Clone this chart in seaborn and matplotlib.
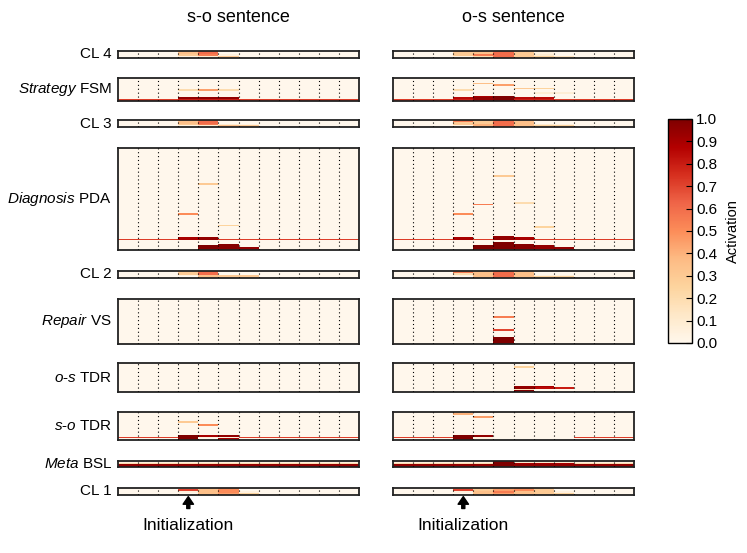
import numpy as np
import matplotlib
matplotlib.use("Agg")
import matplotlib.pyplot as plt
import seaborn as sns
from matplotlib.ticker import FormatStrFormatter

plt.rcParams['font.family'] = ['Liberation Sans', 'DejaVu Sans']
plt.rcParams['mathtext.fontset'] = 'custom'
plt.rcParams['mathtext.rm'] = 'Liberation Sans'
plt.rcParams['mathtext.it'] = 'Liberation Sans:italic'

# ---- data -------------------------------------------------------------
steps = 12
init_step = 3
sentences = ["s-o sentence", "o-s sentence"]
modules = ["CL 4", r"$\mathit{Strategy}$ FSM", "CL 3", r"$\mathit{Diagnosis}$ PDA",
           "CL 2", r"$\mathit{Repair}$ VS", r"$\mathit{o}$-$\mathit{s}$ TDR",
           r"$\mathit{s}$-$\mathit{o}$ TDR", r"$\mathit{Meta}$ BSL", "CL 1"]
units = [4, 14, 4, 64, 4, 28, 18, 18, 4, 4]

# activations: {unit row: [value per time step]}, rows not listed are 0
so_cl4 = {
    0: [0, 0, 0, .35, .6, 0, 0, 0, 0, 0, 0, 0],
    1: [0, 0, 0, .35, .6, 0, 0, 0, 0, 0, 0, 0],
    2: [0, 0, 0, .3, .55, .05, 0, 0, 0, 0, 0, 0],
    3: [0, 0, 0, .05, .1, .3, 0, 0, 0, 0, 0, 0],
}
os_cl4 = {
    0: [0, 0, 0, .5, .35, .6, .3, .05, 0, 0, 0, 0],
    1: [0, 0, 0, .3, .35, .6, .3, .05, 0, 0, 0, 0],
    2: [0, 0, 0, .3, .55, .6, .3, .1, 0, 0, 0, 0],
    3: [0, 0, 0, .05, .2, .6, .3, .25, .15, 0, 0, 0],
}
so_fsm = {
    7: [0, 0, 0, .2, .45, .2, 0, 0, 0, 0, 0, 0],
    12: [0, 0, 0, .95, .95, .95, 0, 0, 0, 0, 0, 0],
    13: [.72, .72, .72, .8, .8, .8, .72, .72, .72, .72, .72, .72],
}
os_fsm = {
    3: [0, 0, 0, 0, .35, 0, 0, 0, 0, 0, 0, 0],
    4: [0, 0, 0, 0, 0, .45, 0, 0, 0, 0, 0, 0],
    6: [0, 0, 0, 0, 0, 0, .3, .25, 0, 0, 0, 0],
    7: [0, 0, 0, .2, 0, 0, 0, 0, 0, 0, 0, 0],
    9: [0, 0, 0, 0, 0, 0, 0, .08, .08, 0, 0, 0],
    11: [0, 0, 0, 0, .9, 1, 0, 0, 0, 0, 0, 0],
    12: [0, 0, 0, .85, .95, 1, .85, .85, 0, 0, 0, 0],
    13: [.72, .72, .72, .8, .95, 1, .8, .8, .72, .72, .72, .72],
}
so_cl3 = {
    0: [0, 0, 0, .35, .6, 0, 0, 0, 0, 0, 0, 0],
    1: [0, 0, 0, .35, .6, 0, 0, 0, 0, 0, 0, 0],
    2: [0, 0, 0, .3, .55, .1, .05, 0, 0, 0, 0, 0],
    3: [0, 0, 0, .05, .1, .35, .3, 0, 0, 0, 0, 0],
}
os_cl3 = {
    0: [0, 0, 0, .55, .3, .6, .35, 0, 0, 0, 0, 0],
    1: [0, 0, 0, .3, .3, .6, .35, 0, 0, 0, 0, 0],
    2: [0, 0, 0, .3, .4, .6, .35, .1, .05, 0, 0, 0],
    3: [0, 0, 0, .05, .4, .6, .35, .25, .25, 0, 0, 0],
}
so_pda = {
    22: [0, 0, 0, 0, .3, 0, 0, 0, 0, 0, 0, 0],
    41: [0, 0, 0, .5, 0, 0, 0, 0, 0, 0, 0, 0],
    48: [0, 0, 0, 0, 0, .25, 0, 0, 0, 0, 0, 0],
    56: [0, 0, 0, .9, .95, 0, 0, 0, 0, 0, 0, 0],
    57: [.72, .72, .72, .9, .95, .72, .72, .72, .72, .72, .72, .72],
    60: [0, 0, 0, 0, 0, .98, 0, 0, 0, 0, 0, 0],
    61: [0, 0, 0, 0, 1, .98, 0, 0, 0, 0, 0, 0],
    62: [0, 0, 0, 0, 1, .98, .95, 0, 0, 0, 0, 0],
    63: [0, 0, 0, 0, 1, .98, .95, 0, 0, 0, 0, 0],
}
os_pda = {
    17: [0, 0, 0, 0, 0, .3, 0, 0, 0, 0, 0, 0],
    34: [0, 0, 0, 0, 0, 0, .2, 0, 0, 0, 0, 0],
    35: [0, 0, 0, 0, .55, 0, 0, 0, 0, 0, 0, 0],
    41: [0, 0, 0, .5, 0, 0, 0, 0, 0, 0, 0, 0],
    49: [0, 0, 0, 0, 0, 0, 0, .25, 0, 0, 0, 0],
    55: [0, 0, 0, 0, 0, .95, 0, 0, 0, 0, 0, 0],
    56: [0, 0, 0, .9, 0, .95, .9, 0, 0, 0, 0, 0],
    57: [.72, .72, .72, .9, .72, .95, .9, .72, .72, .72, .72, .72],
    59: [0, 0, 0, 0, 0, 1, 0, 0, 0, 0, 0, 0],
    60: [0, 0, 0, 0, 0, 1, .98, 0, 0, 0, 0, 0],
    61: [0, 0, 0, 0, 1, 1, .98, .95, 0, 0, 0, 0],
    62: [0, 0, 0, 0, 1, 1, .98, .95, .95, 0, 0, 0],
    63: [0, 0, 0, 0, 1, 1, .98, .95, .95, 0, 0, 0],
}
so_cl2 = {
    0: [0, 0, 0, .3, .6, 0, 0, 0, 0, 0, 0, 0],
    1: [0, 0, 0, .3, .6, 0, 0, 0, 0, 0, 0, 0],
    2: [0, 0, 0, .05, .35, .3, .3, 0, 0, 0, 0, 0],
    3: [0, 0, 0, 0, .35, .3, .3, 0, 0, 0, 0, 0],
}
os_cl2 = {
    0: [0, 0, 0, .55, .35, .6, .35, 0, 0, 0, 0, 0],
    1: [0, 0, 0, .2, .35, .6, .35, 0, 0, 0, 0, 0],
    2: [0, 0, 0, .05, .35, .6, .35, .05, .05, 0, 0, 0],
    3: [0, 0, 0, 0, .35, .6, .35, .25, .25, 0, 0, 0],
}
so_vs = {}
os_vs = {
    11: [0, 0, 0, 0, 0, .55, 0, 0, 0, 0, 0, 0],
    19: [0, 0, 0, 0, 0, .7, 0, 0, 0, 0, 0, 0],
    24: [0, 0, 0, 0, 0, 1, 0, 0, 0, 0, 0, 0],
    25: [0, 0, 0, 0, 0, 1, 0, 0, 0, 0, 0, 0],
    26: [0, 0, 0, 0, 0, 1, 0, 0, 0, 0, 0, 0],
    27: [0, 0, 0, 0, 0, 1, 0, 0, 0, 0, 0, 0],
}
so_ostdr = {}
os_ostdr = {
    2: [0, 0, 0, 0, 0, 0, .25, 0, 0, 0, 0, 0],
    14: [0, 0, 0, 0, 0, 0, .95, .9, 0, 0, 0, 0],
    15: [0, 0, 0, 0, 0, 0, .95, .85, .8, 0, 0, 0],
    16: [0, 0, 0, 0, 0, 0, .15, 0, 0, 0, 0, 0],
    17: [0, 0, 0, 0, 0, 0, 1, 0, 0, 0, 0, 0],
}
so_sotdr = {
    6: [0, 0, 0, .3, 0, 0, 0, 0, 0, 0, 0, 0],
    8: [0, 0, 0, 0, .5, 0, 0, 0, 0, 0, 0, 0],
    15: [0, 0, 0, 1, .9, .95, 0, 0, 0, 0, 0, 0],
    16: [.72, .72, .72, 1, .05, .05, .72, .72, .72, .72, .72, .72],
    17: [0, 0, 0, 1, 0, .9, 0, 0, 0, 0, 0, 0],
}
os_sotdr = {
    1: [0, 0, 0, .4, 0, 0, 0, 0, 0, 0, 0, 0],
    3: [0, 0, 0, 0, .45, 0, 0, 0, 0, 0, 0, 0],
    15: [0, 0, 0, 1, .95, 0, 0, 0, 0, 0, 0, 0],
    16: [.72, .72, .72, 1, .05, 0, 0, 0, 0, .72, .72, .72],
    17: [0, 0, 0, 1, .05, 0, 0, 0, 0, 0, 0, 0],
}
so_meta = {
    0: [.05] * 12,
    1: [.2] * 12,
    2: [.95] * 12,
    3: [.95] * 12,
}
os_meta = {
    0: [.05, .05, .05, .05, .05, 1, .1, .1, .1, .05, .05, .05],
    1: [.2, .2, .2, .2, .2, 1, .9, .9, .9, .2, .2, .2],
    2: [.95, .95, .95, .95, .95, 1, .95, .95, .95, .95, .95, .95],
    3: [.95, .95, .95, .95, .95, 1, .95, .95, .95, .95, .95, .95],
}
so_cl1 = {
    0: [0, 0, 0, .05, .35, .5, 0, 0, 0, 0, 0, 0],
    1: [0, 0, 0, .7, .35, .5, 0, 0, 0, 0, 0, 0],
    2: [0, 0, 0, .05, .35, .5, .05, 0, 0, 0, 0, 0],
    3: [0, 0, 0, 0, .35, .45, .25, 0, 0, 0, 0, 0],
}
os_cl1 = {
    0: [0, 0, 0, .35, .3, .35, .5, .3, 0, 0, 0, 0],
    1: [0, 0, 0, .7, .3, .45, .5, .3, 0, 0, 0, 0],
    2: [0, 0, 0, .05, .35, .55, .35, .3, .05, 0, 0, 0],
    3: [0, 0, 0, 0, .35, .45, .35, .3, .25, 0, 0, 0],
}

so_data = [so_cl4, so_fsm, so_cl3, so_pda, so_cl2, so_vs, so_ostdr, so_sotdr, so_meta, so_cl1]
os_data = [os_cl4, os_fsm, os_cl3, os_pda, os_cl2, os_vs, os_ostdr, os_sotdr, os_meta, os_cl1]


def to_matrix(rows, n):
    m = np.zeros((n, steps))
    for r, vals in rows.items():
        m[r] = vals
    return m


# ---- layout (pixels) --------------------------------------------------
W, H = 747, 553
fig = plt.figure(figsize=(W / 100, H / 100), dpi=100)

panel_top = [50.5, 78, 120, 148, 271, 299, 363, 411.5, 461, 487.5]
panel_h = [7, 22.5, 7, 102, 7, 44.5, 29, 28.5, 6, 7]
col_x = [118, 393]
col_w = 241


def px_axes(x, y, w, h):
    return fig.add_axes([x / W, 1 - (y + h) / H, w / W, h / H])


cax = px_axes(668, 119, 24, 224)

for j, (sent, data) in enumerate(zip(sentences, [so_data, os_data])):
    for i, (rows, n) in enumerate(zip(data, units)):
        ax = px_axes(col_x[j], panel_top[i], col_w, panel_h[i])
        first = (i == 0 and j == 0)
        sns.heatmap(to_matrix(rows, n), ax=ax, cmap='OrRd', vmin=0, vmax=1,
                    xticklabels=False, yticklabels=False,
                    cbar=first, cbar_ax=cax if first else None,
                    cbar_kws={'ticks': np.arange(0, 1.01, 0.1)} if first else None)
        for k in range(1, steps):
            ax.axvline(k, color='black', lw=0.8, ls=(0, (1, 2.5)), zorder=3)
        for s in ax.spines.values():
            s.set_visible(True)
            s.set_linewidth(1.3)
            s.set_color('#222222')
        ax.set_zorder(2)
        if j == 0:
            fig.text(112 / W, 1 - (panel_top[i] + panel_h[i] / 2) / H, modules[i],
                     ha='right', va='center', fontsize=11)
        if i == len(units) - 1:
            trans = ax.get_xaxis_transform()
            ax.annotate('', xy=(init_step + 0.5, -0.3), xytext=(init_step + 0.5, -2.0),
                        xycoords=trans, textcoords=trans, annotation_clip=False,
                        arrowprops=dict(facecolor='black', edgecolor='black',
                                        width=2.2, headwidth=7.5, headlength=5.5))
            cx = col_x[j] + col_w * (init_step + 0.5) / steps
            fig.text(cx / W, 1 - 525 / H, 'Initialization', ha='center', va='center',
                     fontsize=12.5)
    fig.text((col_x[j] + col_w / 2) / W, 1 - 17 / H, sent, ha='center', va='center',
             fontsize=13)

cb = fig.axes[1].collections[0].colorbar
cb.outline.set_linewidth(1)
cb.outline.set_edgecolor('black')
cb.ax.yaxis.set_major_formatter(FormatStrFormatter('%.1f'))
cb.ax.tick_params(direction='in', length=4, width=0.8, labelsize=11, pad=3)
cb.set_label('Activation', fontsize=10.5, labelpad=6)

fig.savefig('out.png', dpi=100)
